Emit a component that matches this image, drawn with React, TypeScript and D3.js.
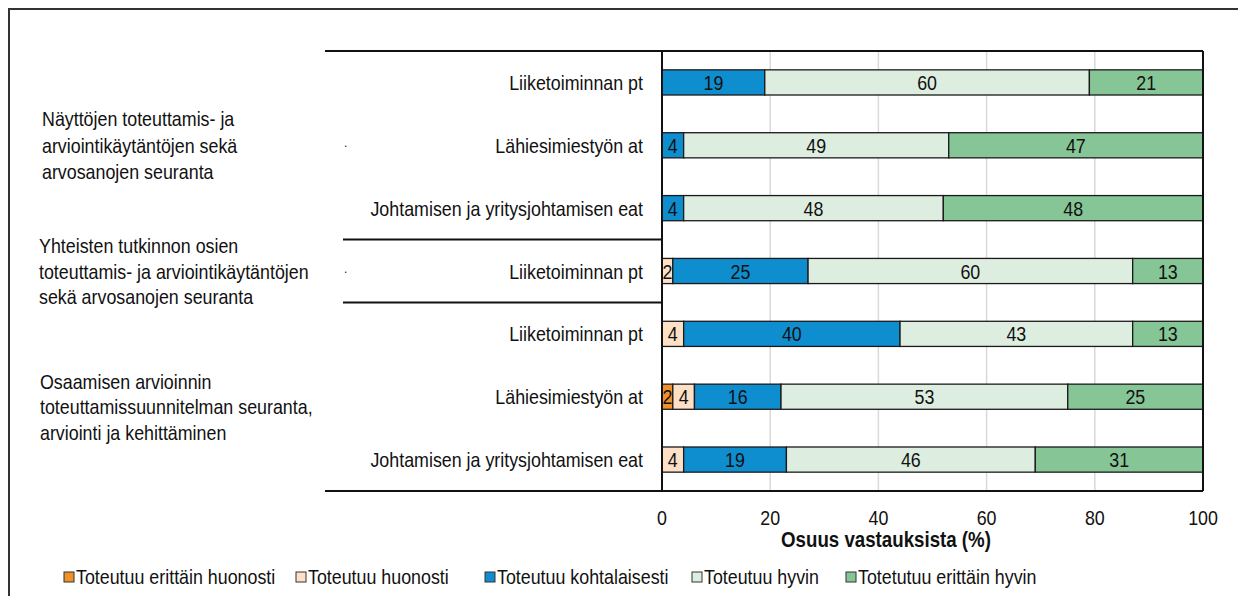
import React from "react";
import * as d3 from "d3";

const seriesNames = [
  "Toteutuu erittäin huonosti",
  "Toteutuu huonosti",
  "Toteutuu kohtalaisesti",
  "Toteutuu hyvin",
  "Totetutuu erittäin hyvin",
];
const seriesColors = ["#EF902C", "#FDE0C5", "#0F8ECF", "#DDEEE1", "#86C596"];

const rowLabels = [
  "Liiketoiminnan pt",
  "Lähiesimiestyön at",
  "Johtamisen ja yritysjohtamisen eat",
  "Liiketoiminnan pt",
  "Liiketoiminnan pt",
  "Lähiesimiestyön at",
  "Johtamisen ja yritysjohtamisen eat",
];
const erittainHuonosti = [0, 0, 0, 0, 0, 2, 0];
const huonosti = [0, 0, 0, 2, 4, 4, 4];
const kohtalaisesti = [19, 4, 4, 25, 40, 16, 19];
const hyvin = [60, 49, 48, 60, 43, 53, 46];
const erittainHyvin = [21, 47, 48, 13, 13, 25, 31];

const groupLabels = [
  ["Näyttöjen toteuttamis- ja", "arviointikäytäntöjen sekä", "arvosanojen seuranta"],
  ["Yhteisten tutkinnon osien", "toteuttamis- ja arviointikäytäntöjen", "sekä arvosanojen seuranta"],
  ["Osaamisen arvioinnin", "toteuttamissuunnitelman seuranta,", "arviointi ja kehittäminen"],
];
const groupRows = [[0, 1, 2], [3], [4, 5, 6]];
const xTicks = [0, 20, 40, 60, 80, 100];
const xTitle = "Osuus vastauksista (%)";

// layout
const W = 1238;
const H = 596;
const FONT = '"Liberation Sans", Arial, sans-serif';
const SX = 0.85;
const plotL = 662, plotR = 1203, plotT = 51, plotB = 491;
const groupLabelX = [42, 39, 40];
const groupLabelDy = [0, 0, 10];
const groupLineGap = [26.5, 25.5, 25.5];
const legendX = [64, 296, 485, 692, 846];

function NText(props: {
  x: number;
  y: number;
  anchor?: "start" | "middle" | "end";
  size: number;
  bold?: boolean;
  dy?: string;
  children: React.ReactNode;
}) {
  return (
    <text
      transform={`translate(${props.x},${props.y}) scale(${SX},1)`}
      textAnchor={props.anchor || "start"}
      fontSize={props.size}
      fontWeight={props.bold ? "bold" : "normal"}
      dy={props.dy}
      fill="#111"
    >
      {props.children}
    </text>
  );
}

export default function App() {
  const series = [erittainHuonosti, huonosti, kohtalaisesti, hyvin, erittainHyvin];
  const x = d3.scaleLinear().domain([0, 100]).range([plotL, plotR]);
  const y = d3
    .scaleBand<number>()
    .domain(d3.range(rowLabels.length))
    .range([plotT, plotB])
    .paddingInner(0.6)
    .paddingOuter(0.3);
  const step = y.step();
  const bw = y.bandwidth();

  const rows = rowLabels.map((_, i) => {
    let acc = 0;
    return series.map((s, k) => {
      const v = s[i];
      const seg = { k, v, x0: acc, x1: acc + v };
      acc += v;
      return seg;
    });
  });

  const groupBounds = groupRows.map((g) => plotT + g[0] * step);
  const groupCenter = (g: number) => {
    const rs = groupRows[g];
    return (y(rs[0])! + y(rs[rs.length - 1])! + bw) / 2;
  };

  return (
    <svg
      width={W}
      height={H}
      style={{ position: "absolute", left: 0, top: 0, background: "#fff" }}
      fontFamily={FONT}
    >
      <rect x={9} y={9} width={W + 10} height={H + 10} fill="#fff" stroke="#333" strokeWidth={2} />
      {/* gridlines */}
      {xTicks.slice(1, -1).map((t) => (
        <line key={t} x1={x(t)} x2={x(t)} y1={plotT} y2={plotB} stroke="#d9d9d9" strokeWidth={1.5} />
      ))}
      {/* bars */}
      {rows.map((segs, i) =>
        segs
          .filter((s) => s.v > 0)
          .map((s) => (
            <g key={`${i}-${s.k}`}>
              <rect
                x={x(s.x0)}
                y={y(i)!}
                width={x(s.x1) - x(s.x0)}
                height={bw}
                fill={seriesColors[s.k]}
                stroke="#1a1a1a"
                strokeWidth={1.3}
              />
              <NText x={(x(s.x0) + x(s.x1)) / 2} y={y(i)! + bw / 2} dy="0.36em" anchor="middle" size={21}>
                {s.v}
              </NText>
            </g>
          ))
      )}
      {/* plot frame */}
      <line x1={plotR} x2={plotR} y1={plotT} y2={plotB} stroke="#111" strokeWidth={2} />
      <line x1={325} x2={plotR} y1={plotT} y2={plotT} stroke="#111" strokeWidth={2} />
      <line x1={325} x2={plotR} y1={plotB} y2={plotB} stroke="#111" strokeWidth={2} />
      <line x1={plotL} x2={plotL} y1={plotT} y2={plotB} stroke="#111" strokeWidth={2} />
      {groupBounds.slice(1).map((gy, i) => (
        <line key={i} x1={343} x2={plotL} y1={gy} y2={gy} stroke="#111" strokeWidth={2} />
      ))}
      {/* row labels */}
      {rowLabels.map((l, i) => (
        <NText key={i} x={643} y={y(i)! + bw / 2} dy="0.36em" anchor="end" size={21}>
          {l}
        </NText>
      ))}
      {/* group labels */}
      {groupLabels.map((lines, g) => {
        const cy = groupCenter(g) + groupLabelDy[g];
        return lines.map((ln, j) => (
          <NText key={`${g}-${j}`} x={groupLabelX[g]} y={cy + (j - 1) * groupLineGap[g]} dy="0.36em" size={21}>
            {ln}
          </NText>
        ));
      })}
      {/* stray dots */}
      {[0, 1].map((g) => (
        <text key={g} x={344} y={groupCenter(g) + 2} fontSize={12} fill="#111">
          .
        </text>
      ))}
      {/* x axis ticks */}
      {xTicks.map((t) => (
        <NText key={t} x={x(t)} y={525} anchor="middle" size={21}>
          {t}
        </NText>
      ))}
      <NText x={886} y={547} anchor="middle" size={22} bold>
        {xTitle}
      </NText>
      {/* legend */}
      {seriesNames.map((n, k) => (
        <g key={k}>
          <rect x={legendX[k]} y={572} width={10} height={10} fill={seriesColors[k]} stroke="#333" strokeWidth={1} />
          <NText x={legendX[k] + 12} y={584} size={21}>
            {n}
          </NText>
        </g>
      ))}
    </svg>
  );
}
